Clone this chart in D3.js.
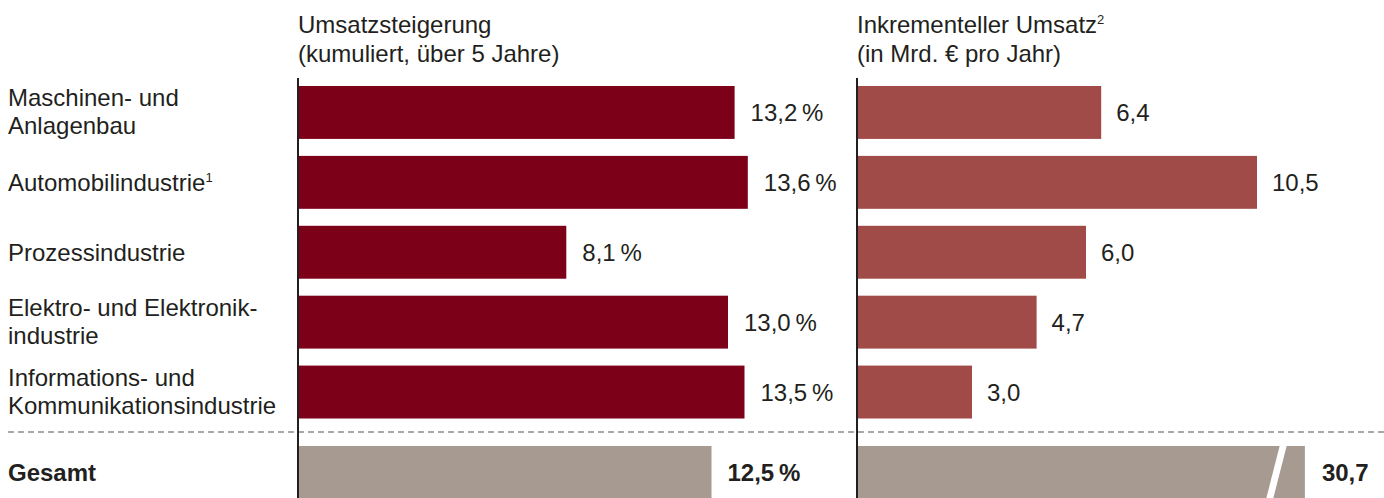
<!DOCTYPE html>
<html lang="de">
<head>
  <meta charset="UTF-8">
  <title>Umsatzsteigerung nach Branche</title>
  <script src="https://d3js.org/d3.v7.min.js"></script>
  <style>
    body {
      margin: 0;
      background: #fff;
      font-family: "Liberation Sans", Arial, sans-serif;
    }
    text { fill: #231f20; }
  </style>
</head>
<body>
<svg id="chart" width="1384" height="498"></svg>
<script>
  // Data
  const categories = [
    ["Maschinen- und", "Anlagenbau"],
    ["Automobilindustrie|1"],
    ["Prozessindustrie"],
    ["Elektro- und Elektronik-", "industrie"],
    ["Informations- und", "Kommunikationsindustrie"]
  ];
  const growth = [13.2, 13.6, 8.1, 13.0, 13.5];       // % kumuliert
  const revenue = [6.4, 10.5, 6.0, 4.7, 3.0];         // Mrd. € pro Jahr
  const totalGrowth = 12.5;
  const totalRevenue = 30.7;
  const revenueBreakAt = 11.76;   // where the broken total bar is cut

  const fmt = v => d3.format(".1f")(v).replace(".", ",");
  const FS = 24;

  const svg = d3.select("#chart");
  const ids = categories.map((c, i) => "c" + i);

  const y = d3.scaleBand().domain(ids).range([86, 418.5]).paddingInner(0.243);
  const bh = y.bandwidth();
  const xL = d3.scaleLinear().domain([0, 1]).range([299, 332]);
  const xR = d3.scaleLinear().domain([0, 1]).range([858, 896]);
  const totalY = 446;

  // headers
  function header(x, lines) {
    const t = svg.append("text").attr("x", x).attr("font-size", FS);
    lines.forEach((l, i) => {
      const parts = l.split("|");
      t.append("tspan").attr("x", x).attr("y", 33 + i * 29).text(parts[0]);
      if (parts[1]) t.append("tspan").attr("font-size", 13).attr("dy", -9).text(parts[1]);
    });
  }
  header(298, ["Umsatzsteigerung", "(kumuliert, über 5 Jahre)"]);
  header(857, ["Inkrementeller Umsatz|2", "(in Mrd. € pro Jahr)"]);

  // category labels
  categories.forEach((lines, i) => {
    const c = y(ids[i]) + bh / 2;
    const t = svg.append("text").attr("font-size", FS);
    lines.forEach((l, j) => {
      const yy = lines.length === 1 ? c + 8.5 : c - 6 + j * 28;
      const parts = l.split("|");
      t.append("tspan").attr("x", 8).attr("y", yy).text(parts[0]);
      if (parts[1]) t.append("tspan").attr("font-size", 13).attr("dy", -9).text(parts[1]);
    });
  });

  // left bars
  svg.selectAll(".barL").data(growth).join("rect")
    .attr("x", xL(0)).attr("y", (d, i) => y(ids[i]))
    .attr("width", d => xL(d) - xL(0)).attr("height", bh)
    .attr("fill", "#7d0019");
  svg.selectAll(".lblL").data(growth).join("text")
    .attr("x", d => xL(d) + 16).attr("y", (d, i) => y(ids[i]) + bh / 2 + 8.5)
    .attr("font-size", FS).text(d => fmt(d) + "\u2009%");

  // right bars
  svg.selectAll(".barR").data(revenue).join("rect")
    .attr("x", xR(0)).attr("y", (d, i) => y(ids[i]))
    .attr("width", d => xR(d) - xR(0)).attr("height", bh)
    .attr("fill", "#a04b47");
  svg.selectAll(".lblR").data(revenue).join("text")
    .attr("x", d => xR(d) + 15).attr("y", (d, i) => y(ids[i]) + bh / 2 + 8.5)
    .attr("font-size", FS).text(d => fmt(d));

  // dashed separator
  svg.append("line")
    .attr("x1", 8).attr("x2", 1384).attr("y1", 432).attr("y2", 432)
    .attr("stroke", "#a8a8a8").attr("stroke-width", 2).attr("stroke-dasharray", "6,4");

  // total row
  svg.append("text").attr("x", 8).attr("y", totalY + bh / 2 + 8.5)
    .attr("font-size", FS).attr("font-weight", "bold").text("Gesamt");

  svg.append("rect").attr("x", xL(0)).attr("y", totalY)
    .attr("width", xL(totalGrowth) - xL(0)).attr("height", bh).attr("fill", "#a69a91");
  svg.append("text").attr("x", xL(totalGrowth) + 16).attr("y", totalY + bh / 2 + 8.5)
    .attr("font-size", FS).attr("font-weight", "bold").text(fmt(totalGrowth) + "\u2009%");

  const shown = Math.min(totalRevenue, revenueBreakAt);
  svg.append("rect").attr("x", xR(0)).attr("y", totalY)
    .attr("width", xR(shown) - xR(0)).attr("height", bh).attr("fill", "#a69a91");
  if (totalRevenue > revenueBreakAt) {
    const bx = xR(shown) - 22;
    svg.append("path")
      .attr("d", `M${bx - 3},${totalY - 1} L${bx + 4},${totalY - 1} L${bx - 10},${totalY + bh + 1} L${bx - 17},${totalY + bh + 1} Z`)
      .attr("fill", "#fff");
  }
  svg.append("text").attr("x", xR(shown) + 17).attr("y", totalY + bh / 2 + 8.5)
    .attr("font-size", FS).attr("font-weight", "bold").text(fmt(totalRevenue));

  // axis lines
  [xL(0) - 1, xR(0) - 1].forEach(x => {
    svg.append("line").attr("x1", x).attr("x2", x).attr("y1", 78).attr("y2", 498)
      .attr("stroke", "#231f20").attr("stroke-width", 2);
  });
</script>
</body>
</html>
